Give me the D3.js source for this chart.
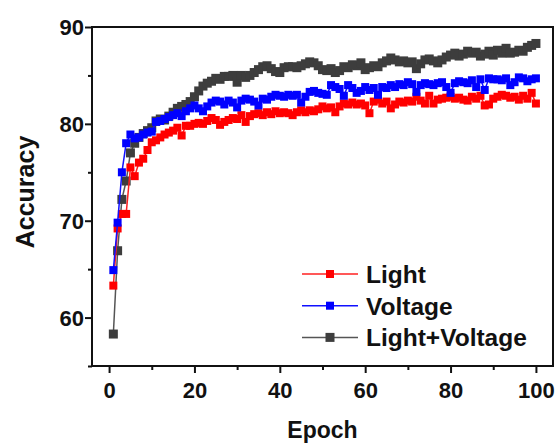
<!DOCTYPE html>
<html>
<head>
<meta charset="utf-8">
<script src="https://cdn.jsdelivr.net/npm/d3@7"></script>
<style>
  html, body { margin: 0; padding: 0; background: #fff; }
  svg { display: block; font-family: "Liberation Sans", Arial, sans-serif; }
  .tick-label { font-size: 22px; font-weight: bold; fill: #111; }
  .axis-title { font-size: 23px; font-weight: bold; fill: #111; }
  .y-title { font-size: 25px; }
  .legend-label { font-size: 24.5px; font-weight: bold; fill: #111; }
</style>
</head>
<body>
<svg id="chart"></svg>
<script>
// ══════════════════════════════════════════════════
//  Accuracy vs epoch — Light / Voltage / Light+Voltage
// ══════════════════════════════════════════════════

// ── Data (epochs 1–100) ──
const epochs = d3.range(1, 101);

const lightAcc = [
  63.3, 69.2, 70.7, 70.7, 75.5, 74.6, 76.0, 76.4, 77.3, 78.1,
  78.3, 78.6, 78.9, 79.1, 79.3, 79.6, 78.8, 79.8, 79.8, 80.0,
  80.1, 80.0, 80.3, 80.6, 80.4, 79.9, 80.2, 80.4, 80.6, 80.5,
  80.9, 80.2, 80.8, 81.0, 81.1, 80.9, 81.2, 81.0, 81.3, 81.1,
  81.2, 81.1, 80.9, 81.2, 81.4, 81.2, 81.4, 81.3, 81.5, 81.8,
  81.6, 81.7, 81.2, 81.8, 82.1, 82.0, 82.2, 82.0, 82.1, 81.9,
  81.1, 82.3, 82.5, 82.1, 82.3, 81.6, 82.0, 82.3, 82.2, 82.4,
  82.3, 82.8, 82.4, 82.1, 82.9, 82.1, 82.5, 82.6, 82.7, 82.8,
  82.6, 82.7, 82.5, 82.4, 82.8, 82.6, 82.9, 81.9, 82.0, 82.6,
  82.8, 83.0, 82.9, 82.7, 82.8, 82.5, 82.9, 82.6, 83.2, 82.1
];

const voltageAcc = [
  64.9, 69.8, 75.0, 78.0, 78.9, 78.5, 78.6, 78.9, 79.1, 79.2,
  80.2, 80.3, 80.5, 80.7, 80.9, 81.1, 80.8, 81.3, 81.6, 81.9,
  81.6, 81.3, 81.8, 82.2, 82.4, 82.3, 82.0, 82.4, 82.2, 81.7,
  82.4, 82.6, 82.5, 82.3, 81.9, 82.6, 82.5, 82.8, 83.0, 82.9,
  82.8, 83.0, 82.9, 83.0, 82.2, 82.8, 83.3, 83.4, 83.2, 83.1,
  83.0, 84.0, 83.8, 83.6, 82.9, 84.0, 83.7, 83.2, 83.4, 83.8,
  83.5, 83.7, 83.0, 83.8, 83.7, 84.0, 83.8, 84.1, 84.0, 84.3,
  84.1, 83.3, 84.0, 84.2, 84.1, 84.0, 84.2, 84.3, 83.8, 83.2,
  84.2, 84.4, 84.3, 84.2, 84.5, 83.8, 84.6, 83.5, 84.7, 84.6,
  84.6, 84.5, 84.7, 84.0, 84.3, 84.8, 84.7, 84.4, 84.6, 84.7
];

const comboAcc = [
  58.3, 66.9, 72.2, 74.1, 77.0, 78.0, 78.6, 79.0, 79.3, 79.6,
  80.3, 80.5, 80.4, 80.8, 81.2, 81.6, 81.8, 82.0, 82.3, 82.8,
  83.4, 83.9, 84.2, 84.4, 84.7, 84.6, 84.9, 84.9, 85.0, 84.3,
  85.0, 84.8, 85.0, 85.3, 85.6, 85.9, 86.0, 85.7, 85.4, 85.3,
  85.8, 85.9, 85.9, 85.8, 86.0, 86.2, 86.4, 86.3, 86.0, 85.6,
  85.5, 85.7, 85.3, 85.5, 85.9, 85.8, 86.1, 86.0, 86.3, 85.6,
  85.8, 86.0, 85.9, 86.3, 86.5, 86.8, 86.6, 86.4, 86.5, 86.3,
  86.4, 85.7, 86.2, 86.6, 86.7, 86.5, 86.3, 86.6, 86.9, 87.1,
  87.3, 87.0, 87.2, 87.5, 87.3, 87.4, 87.0, 87.2, 87.5, 87.1,
  87.6, 87.3, 87.8, 87.3, 87.4, 87.6, 87.5, 87.9, 88.1, 88.3
];

const seriesNames = ["Light", "Voltage", "Light+Voltage"];
const xTickValues = [0, 20, 40, 60, 80, 100];
const yTickValues = [60, 70, 80, 90];

// ── Series styling (drawn in this order: gray first, blue on top) ──
const series = [
  { name: seriesNames[2], values: comboAcc,   line: "#555555", fill: "#3d3d3d", size: 9 },
  { name: seriesNames[0], values: lightAcc,   line: "#ff2020", fill: "#ff0000", size: 8 },
  { name: seriesNames[1], values: voltageAcc, line: "#1010ff", fill: "#0000ff", size: 8 }
];
const legendOrder = [series[1], series[2], series[0]];

// ── Dimensions ──
const width = 558;
const height = 443;
const plot = { left: 92, right: 553, top: 27, bottom: 366 };

const svg = d3.select("#chart")
  .attr("width", width)
  .attr("height", height);

const x = d3.scaleLinear().domain([-4, 104]).range([plot.left, plot.right]);
const y = d3.scaleLinear().domain([55, 90]).range([plot.bottom, plot.top]);

// ── Data lines + square markers ──
const line = d3.line()
  .x((d, i) => x(epochs[i]))
  .y(d => y(d));

series.forEach(s => {
  svg.append("path")
    .datum(s.values)
    .attr("fill", "none")
    .attr("stroke", s.line)
    .attr("stroke-width", 1.5)
    .attr("d", line);

  svg.append("g")
    .selectAll("rect")
    .data(s.values)
    .join("rect")
    .attr("x", (d, i) => x(epochs[i]) - s.size / 2)
    .attr("y", d => y(d) - s.size / 2)
    .attr("width", s.size)
    .attr("height", s.size)
    .attr("fill", s.fill);
});

// ── Axes ──
const xAxis = d3.axisBottom(x)
  .tickValues(d3.range(0, 101, 10))
  .tickSize(7)
  .tickFormat(d => xTickValues.includes(d) ? d : "");

const yAxis = d3.axisLeft(y)
  .tickValues(d3.range(55, 91, 5))
  .tickSize(7)
  .tickFormat(d => yTickValues.includes(d) ? d : "");

const gx = svg.append("g")
  .attr("transform", `translate(0,${plot.bottom})`)
  .call(xAxis);

const gy = svg.append("g")
  .attr("transform", `translate(${plot.left},0)`)
  .call(yAxis);

[gx, gy].forEach(g => {
  g.select(".domain").remove();
  g.selectAll(".tick line").attr("stroke", "#111").attr("stroke-width", 2);
  g.selectAll(".tick text").attr("class", "tick-label");
});

// minor ticks are shorter
gx.selectAll(".tick line").attr("y2", d => xTickValues.includes(d) ? 7 : 4);
gx.selectAll(".tick text").attr("y", 16).attr("dy", "0.71em");
gy.selectAll(".tick line").attr("x2", d => yTickValues.includes(d) ? -7 : -4);
gy.selectAll(".tick text").attr("x", -8).attr("dy", "0.36em");

// ── Frame ──
svg.append("rect")
  .attr("x", plot.left)
  .attr("y", plot.top)
  .attr("width", plot.right - plot.left)
  .attr("height", plot.bottom - plot.top)
  .attr("fill", "none")
  .attr("stroke", "#111")
  .attr("stroke-width", 2);

// ── Axis titles ──
svg.append("text")
  .attr("class", "axis-title")
  .attr("x", (plot.left + plot.right) / 2)
  .attr("y", 438)
  .attr("text-anchor", "middle")
  .text("Epoch");

svg.append("text")
  .attr("class", "axis-title y-title")
  .attr("transform", `translate(34,192) rotate(-90)`)
  .attr("text-anchor", "middle")
  .text("Accuracy");

// ── Legend ──
const legend = svg.append("g").attr("transform", "translate(302,274)");

legendOrder.forEach((s, i) => {
  const row = legend.append("g").attr("transform", `translate(0,${i * 31.7})`);
  row.append("line")
    .attr("x1", 0).attr("x2", 56)
    .attr("stroke", s.line)
    .attr("stroke-width", 1.5);
  row.append("rect")
    .attr("x", 28 - s.size / 2)
    .attr("y", -s.size / 2)
    .attr("width", s.size)
    .attr("height", s.size)
    .attr("fill", s.fill);
  row.append("text")
    .attr("class", "legend-label")
    .attr("x", 64)
    .attr("dy", "0.36em")
    .text(s.name);
});
</script>
</body>
</html>
